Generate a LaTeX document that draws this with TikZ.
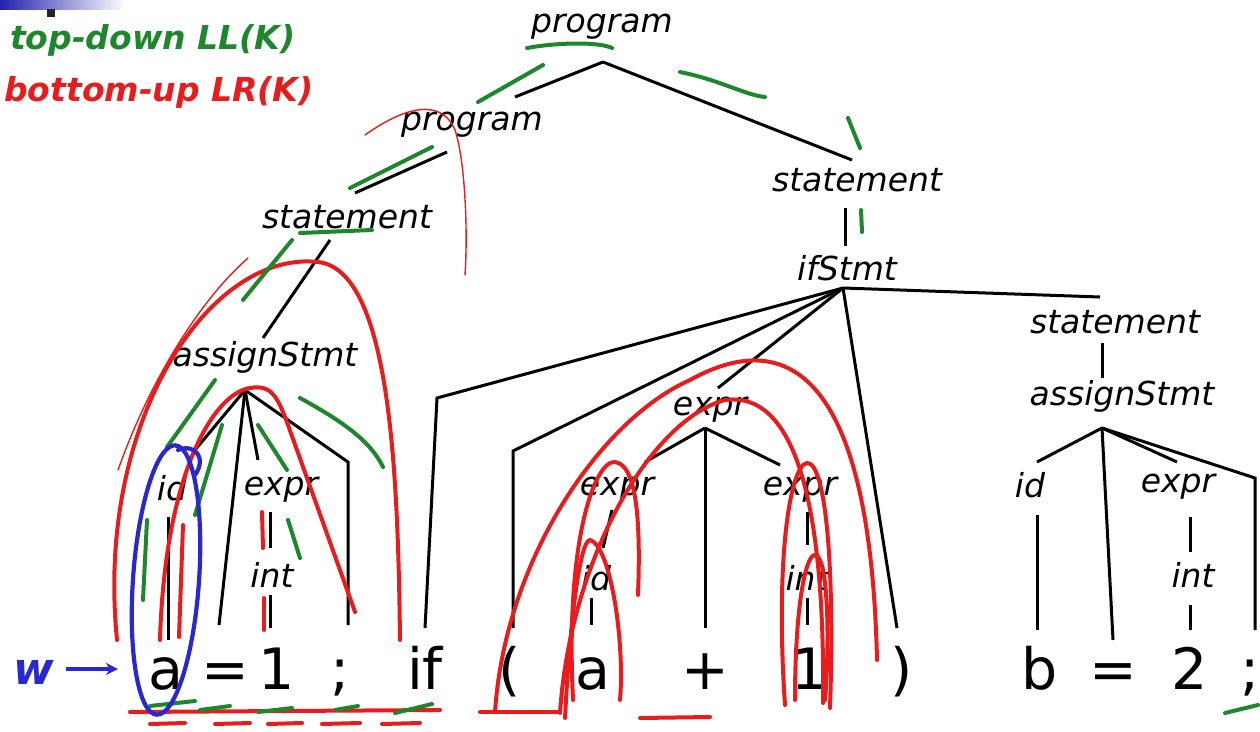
\documentclass[tikz,border=0pt]{standalone}
\usepackage{fontspec}
\setmainfont{DejaVu Sans}
\usetikzlibrary{arrows.meta}
\definecolor{hgreen}{RGB}{30,135,45}
\definecolor{hred}{RGB}{232,28,28}
\definecolor{hblue}{RGB}{40,40,205}
\tikzset{
  lbl/.style={inner sep=0pt, font=\fontsize{33}{38}\selectfont\itshape},
  tok/.style={inner sep=0pt, anchor=base, font=\fontsize{57}{64}\selectfont},
  edge/.style={draw=black, line width=3pt},
  rstroke/.style={draw=hred, line width=4pt, line cap=round},
  rthin/.style={draw=hred, line width=1.4pt, line cap=round},
  gstroke/.style={draw=hgreen, line width=4pt, line cap=round},
  bstroke/.style={draw=hblue, line width=4.2pt, line cap=round},
  note/.style={inner sep=0pt, anchor=west, font=\fontsize{33}{38}\selectfont\itshape\bfseries},
}
\begin{document}
\begin{tikzpicture}[x=1pt,y=-1pt]
\useasboundingbox (0,0) rectangle (1260,731);
\fill[white] (0,0) rectangle (1260,731);
% top-left bar
\shade[left color=hblue!85!black, right color=white] (0,0) rectangle (125,9);
\fill[black!85] (47,9) rectangle (55,17);
% handwritten notes
\node[note, text=hgreen] (note1) at (10,40) {top-down LL(K)};
\node[note, text=hred] (note2) at (4,92) {bottom-up LR(K)};

% labels
\node[lbl] (p1) at (602,27) {program};
\node[lbl] (p2) at (472,125) {program};
\node[lbl] (sL) at (347,217) {statement};
\node[lbl] (sR) at (857,180) {statement};
\node[lbl] (ifs) at (847,268) {ifStmt};
\node[lbl] (aL) at (265,357) {assignStmt};
\node[lbl] (sR2) at (1115,322) {statement};
\node[lbl] (aR) at (1122,396) {assignStmt};
\node[lbl] (idL) at (172,488) {id};
\node[lbl] (exL) at (281,490) {expr};
\node[lbl] (intL) at (272,575) {int};
\node[lbl] (exM) at (710,410) {expr};
\node[lbl] (exM1) at (617,490) {expr};
\node[lbl] (exM2) at (800,490) {expr};
\node[lbl] (idM) at (596,578) {id};
\node[lbl] (intM) at (807,578) {int};
\node[lbl] (idR) at (1030,485) {id};
\node[lbl] (exR) at (1178,487) {expr};
\node[lbl] (intR) at (1193,575) {int};

% tokens
\node[tok] (t1) at (166,689) {a};
\node[tok] (t2) at (225,689) {=};
\node[tok] (t3) at (277,689) {1};
\node[tok] (t4) at (340,689) {;};
\node[tok] (t5) at (425,689) {if};
\node[tok] (t6) at (510,689) {(};
\node[tok] (t7) at (593,689) {a};
\node[tok] (t8) at (705,689) {+};
\node[tok] (t9) at (810,689) {1};
\node[tok] (t10) at (902,689) {)};
\node[tok] (t11) at (1040,689) {b};
\node[tok] (t12) at (1113,689) {=};
\node[tok] (t13) at (1190,689) {2};
\node[tok] (t14) at (1250,689) {;};

% w arrow
\node[inner sep=0pt, text=hblue, font=\fontsize{44}{48}\selectfont\itshape\bfseries] (w) at (34,672) {w};
\coordinate (wa0) at (66,669);
\coordinate (wa) at (118,669);
\draw[hblue, line width=3.4pt, -{Stealth[length=12pt,width=12pt]}] (wa0) -- (wa);

% tree skeleton coordinates
\coordinate (p1b) at (603,62);
\coordinate (p2t) at (515,97);
\coordinate (p2b) at (447,152);
\coordinate (sLt) at (355,193);
\coordinate (sLb) at (330,240);
\coordinate (aLt) at (263,338);
\coordinate (sRt) at (852,160);
\coordinate (sRb) at (845,208);
\coordinate (ifst) at (845,246);
\coordinate (ifa) at (843,288);
\coordinate (c1) at (437,398);
\coordinate (c1b) at (425,628);
\coordinate (c2) at (513,451);
\coordinate (c2b) at (513,628);
\coordinate (exMt) at (718,388);
\coordinate (rp) at (897,628);
\coordinate (sR2t) at (1100,297);
\coordinate (exMa) at (705,428);
\coordinate (exM1t) at (645,462);
\coordinate (plus) at (705,628);
\coordinate (exM2t) at (780,465);
\coordinate (exM1b) at (612,510);
\coordinate (idMt) at (603,548);
\coordinate (idMb) at (591,598);
\coordinate (t7t) at (591,625);
\coordinate (exM2b) at (807,512);
\coordinate (intMt) at (807,545);
\coordinate (intMb) at (807,598);
\coordinate (t9t) at (807,625);
\coordinate (aLa) at (245,390);
\coordinate (idLt) at (195,450);
\coordinate (t2t) at (219,625);
\coordinate (exLt) at (258,460);
\coordinate (c3) at (348,462);
\coordinate (t4t) at (348,625);
\coordinate (idLb) at (168,517);
\coordinate (t1t) at (168,640);
\coordinate (exLb) at (270,512);
\coordinate (intLt) at (270,548);
\coordinate (intLb) at (270,595);
\coordinate (t3t) at (270,628);
\coordinate (sR2b) at (1102,343);
\coordinate (aRt) at (1102,378);
\coordinate (aRa) at (1102,428);
\coordinate (idRt) at (1037,462);
\coordinate (t12t) at (1113,640);
\coordinate (exRt) at (1177,462);
\coordinate (c4) at (1255,478);
\coordinate (t14t) at (1255,630);
\coordinate (idRb) at (1037,515);
\coordinate (t11t) at (1037,630);
\coordinate (exRb) at (1190,517);
\coordinate (intRt) at (1190,552);
\coordinate (intRb) at (1190,605);
\coordinate (t13t) at (1190,630);

% tree edges
\draw[edge] (p1b) -- (p2t);
\draw[edge] (p1b) -- (sRt);
\draw[edge] (p2b) -- (sLt);
\draw[edge] (sLb) -- (aLt);
\draw[edge] (sRb) -- (ifst);
\draw[edge] (ifa) -- (c1) -- (c1b);
\draw[edge] (ifa) -- (c2) -- (c2b);
\draw[edge] (ifa) -- (exMt);
\draw[edge] (ifa) -- (rp);
\draw[edge] (ifa) -- (sR2t);
\draw[edge] (exMa) -- (exM1t);
\draw[edge] (exMa) -- (plus);
\draw[edge] (exMa) -- (exM2t);
\draw[edge] (exM1b) -- (idMt);
\draw[edge] (idMb) -- (t7t);
\draw[edge] (exM2b) -- (intMt);
\draw[edge] (intMb) -- (t9t);
\draw[edge] (aLa) -- (idLt);
\draw[edge] (aLa) -- (t2t);
\draw[edge] (aLa) -- (exLt);
\draw[edge] (aLa) -- (c3) -- (t4t);
\draw[edge] (idLb) -- (t1t);
\draw[edge] (exLb) -- (intLt);
\draw[edge] (intLb) -- (t3t);
\draw[edge] (sR2b) -- (aRt);
\draw[edge] (aRa) -- (idRt);
\draw[edge] (aRa) -- (t12t);
\draw[edge] (aRa) -- (exRt);
\draw[edge] (aRa) -- (c4) -- (t14t);
\draw[edge] (idRb) -- (t11t);
\draw[edge] (exRb) -- (intRt);
\draw[edge] (intRb) -- (t13t);

% ---- hand annotations: red ----
\draw[rstroke] (117,640) .. controls (95,420) and (210,250) .. (318,262) .. controls (390,270) and (398,470) .. (400,640);
\draw[rthin] (118,470) .. controls (150,380) and (200,300) .. (248,258);
\draw[rstroke] (160,640) .. controls (165,470) and (215,393) .. (250,388) .. controls (272,384) and (278,398) .. (288,425) -- (355,612);
\draw[rstroke] (183,525) -- (179,637);
\draw[rstroke] (262,512) -- (263,548);
\draw[rstroke] (264,598) -- (264,630);
\draw[rthin] (365,135) .. controls (400,110) and (440,95) .. (455,130) .. controls (465,160) and (468,230) .. (465,275);
\draw[rstroke] (130,712) -- (440,710);
\foreach \a/\b in {150/185,215/250,268/302,322/360,382/420}{\draw[rstroke] (\a,724) -- (\b,723);}
\draw[rstroke] (495,712) .. controls (505,560) and (600,420) .. (690,380) .. controls (780,330) and (870,360) .. (877,660);
\draw[rstroke] (560,713) .. controls (570,560) and (650,420) .. (725,400) .. controls (800,390) and (825,520) .. (823,703);
\draw[rstroke] (480,712) -- (560,712);
\draw[rstroke] (640,718) -- (710,717);
\draw[rstroke] (573,700) .. controls (565,540) and (595,460) .. (615,462) .. controls (640,465) and (640,540) .. (638,595);
\draw[rstroke] (565,718) .. controls (570,620) and (580,540) .. (590,540) .. controls (610,545) and (625,640) .. (620,700);
\draw[rstroke] (785,705) .. controls (775,560) and (790,465) .. (807,463) .. controls (825,462) and (835,560) .. (830,708);
\draw[rstroke] (795,700) .. controls (795,610) and (805,555) .. (815,555) .. controls (828,555) and (830,640) .. (825,700);

% ---- hand annotations: green ----
\draw[gstroke] (527,48) .. controls (560,42) and (600,42) .. (612,48);
\draw[gstroke] (478,102) -- (543,65);
\draw[gstroke] (680,72) .. controls (720,80) and (745,95) .. (765,97);
\draw[gstroke] (848,118) -- (860,148);
\draw[gstroke] (861,210) -- (862,232);
\draw[gstroke] (350,188) -- (432,147);
\draw[gstroke] (300,233) -- (372,230);
\draw[gstroke] (243,300) -- (292,240);
\draw[gstroke] (167,447) -- (215,380);
\draw[gstroke] (195,515) -- (222,425);
\draw[gstroke] (143,600) -- (147,520);
\draw[gstroke] (258,425) -- (287,470);
\draw[gstroke] (288,520) -- (300,558);
\draw[gstroke] (300,398) .. controls (340,420) and (370,440) .. (383,467);
\draw[gstroke] (150,706) -- (195,701);
\draw[gstroke] (200,710) -- (230,706);
\draw[gstroke] (258,712) -- (292,708);
\draw[gstroke] (335,710) -- (358,706);
\draw[gstroke] (395,713) -- (432,704);
\draw[gstroke] (1225,713) -- (1258,705);

% ---- blue ellipse ----
\draw[bstroke, rotate around={-4:(166,580)}] (166,580) ellipse [x radius=33, y radius=135];
\draw[bstroke] (178,450) .. controls (195,443) and (207,458) .. (195,475);
\end{tikzpicture}
\end{document}
